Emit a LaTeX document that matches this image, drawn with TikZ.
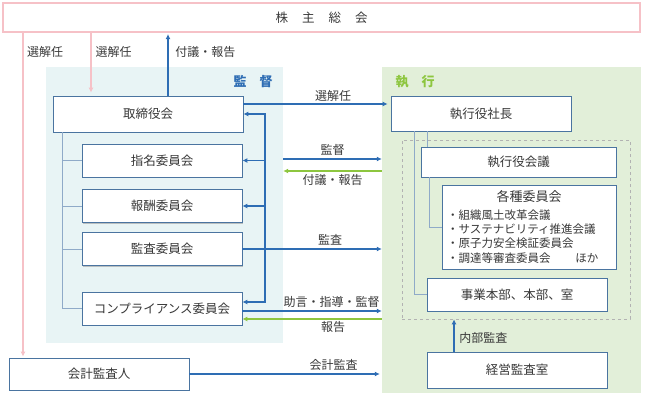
\documentclass[tikz,border=0pt]{standalone}
\usepackage{fontspec}
\setmainfont{Noto Sans CJK JP}
\usetikzlibrary{arrows.meta, positioning, calc, shadows}

\definecolor{boxborder}{HTML}{4A74A0}
\definecolor{treegray}{HTML}{8FAAC8}
\definecolor{flowblue}{HTML}{2E6DB4}
\definecolor{flowgreen}{HTML}{8DC63F}
\definecolor{flowpink}{HTML}{F6C1C7}
\definecolor{kantokufill}{HTML}{E8F4F5}
\definecolor{shikkofill}{HTML}{E2EFD9}
\definecolor{textgray}{HTML}{383838}

\tikzset{
  % Boxes
  orgbox/.style={draw=boxborder, fill=white, line width=0.8pt, text=textgray,
    font=\fontsize{12.5}{14}\selectfont,
    drop shadow={shadow xshift=1.3pt, shadow yshift=-1.3pt, fill=black!45, opacity=0.5}},
  committee/.style={orgbox, minimum width=160pt, minimum height=33pt},
  topbox/.style={orgbox, draw=flowpink, line width=1.2pt},
  % Areas
  region/.style={draw=none, inner sep=0pt},
  arealabel/.style={font=\bfseries\fontsize{13}{15}\selectfont},
  dashframe/.style={draw=black!30, dashed, line width=0.7pt, inner sep=0pt},
  % Connectors
  bluearrow/.style={-{Latex[length=5pt, width=5pt]}, line width=1.6pt, draw=flowblue},
  greenarrow/.style={-{Latex[length=5pt, width=5pt]}, line width=1.6pt, draw=flowgreen},
  pinkarrow/.style={-{Latex[length=5pt, width=5pt]}, line width=1.4pt, draw=flowpink},
  treeline/.style={draw=treegray, line width=0.8pt},
}

\begin{document}
\begin{tikzpicture}[x=1pt, y=-1pt,
    lbl/.style={text=textgray, font=\fontsize{12}{14}\selectfont, inner sep=1.5pt},
  ]
  \useasboundingbox (0,0) rectangle (645,396);

  % Areas
  \node[region, fill=kantokufill, minimum width=237pt, minimum height=276pt] (kantoku) at (164.5,205) {};
  \node[region, fill=shikkofill, minimum width=259pt, minimum height=326pt] (shikko) at (511.5,230) {};
  \node[arealabel, text=flowblue] (kantokulabel) at (253,82) {監\hspace{13pt}督};
  \node[arealabel, text=flowgreen] (shikkolabel) at (415,82) {執\hspace{13pt}行};
  \node[dashframe, minimum width=228pt, minimum height=179pt] (execframe) at (516,229.5) {};

  % Boxes
  \node[topbox, minimum width=637pt, minimum height=29pt] (kabunushi) at (321.5,17.5)
    {株\hspace{14pt}主\hspace{14pt}総\hspace{14pt}会};
  \node[orgbox, minimum width=190pt, minimum height=36pt] (torishimari) at (148,114) {取締役会};
  \node[committee] (shimei) at (162,160.5) {指名委員会};
  \node[committee] (hoshu) at (162,206) {報酬委員会};
  \node[committee] (kansa) at (162,249) {監査委員会};
  \node[committee] (compliance) at (162,308.5) {コンプライアンス委員会};
  \node[orgbox, minimum width=180pt, minimum height=32pt] (kaikei) at (99,374) {会計監査人};

  \node[orgbox, minimum width=180pt, minimum height=35pt] (shacho) at (481,113.5) {執行役社長};
  \node[orgbox, minimum width=195pt, minimum height=30pt] (yakuinkaigi) at (518.5,162) {執行役会議};
  \node[orgbox, minimum width=174pt, minimum height=84pt, text width=164pt, inner xsep=5pt,
    align=left, font=\fontsize{11.5}{14.3}\selectfont] (kakushu) at (529,227)
    {\makebox[164pt]{\fontsize{13}{15}\selectfont 各種委員会}\\[3pt]
     ・組織風土改革会議\\
     ・サステナビリティ推進会議\\
     ・原子力安全検証委員会\\
     ・調達等審査委員会\hspace{25pt}ほか};
  \node[orgbox, minimum width=180pt, minimum height=33pt] (jigyo) at (517,294.5) {事業本部、本部、室};
  \node[orgbox, minimum width=180pt, minimum height=36pt] (keiei) at (517,370) {経営監査室};

  % Guide positions
  \coordinate (pinkA) at (23,0);
  \coordinate (pinkB) at (91,0);
  \coordinate (upC) at (168,0);
  \coordinate (bus) at (265,0);
  \coordinate (treeL) at (62,0);
  \coordinate (treeR1) at (414,0);
  \coordinate (treeR2) at (427,0);
  \coordinate (treeR3) at (429,0);
  \coordinate (audit) at (454,0);
  \coordinate (senkairow) at (0,104);
  \coordinate (kantokurow) at (0,159);
  \coordinate (fugirow) at (171,171);
  \coordinate (advise) at ([yshift=-2.5pt]compliance.east);
  \coordinate (reportin) at ([yshift=-10.5pt]compliance.east);

  % Tree lines
  \draw[treeline] (torishimari.south -| treeL) |- (compliance.west);
  \foreach \c in {shimei, hoshu, kansa}
    \draw[treeline] (treeL |- \c.west) -- (\c.west);
  \draw[treeline] (shacho.south -| treeR1) |- (jigyo.west);
  \draw[treeline] (shacho.south -| treeR2) -- (treeR2 |- yakuinkaigi.north);
  \draw[treeline] (yakuinkaigi.south -| treeR3) |- (kakushu.west);

  % Shareholders
  \draw[pinkarrow, shorten >=1pt] (kabunushi.south -| pinkA) -- (pinkA |- kaikei.north)
    node[lbl, pos=0.058, right, xshift=2pt] {選解任};
  \draw[pinkarrow, shorten >=3pt] (kabunushi.south -| pinkB) -- (pinkB |- torishimari.north)
    node[lbl, pos=0.3, right, xshift=2.5pt] {選解任};
  \draw[bluearrow, shorten >=1.5pt] (torishimari.north -| upC) -- (kabunushi.south -| upC)
    node[lbl, pos=0.7, right, xshift=5pt] {付議・報告};

  % Board to committees
  \draw[bluearrow] (kansa.east) -- (kansa.east -| shikko.west)
    node[lbl, pos=0.63, above, yshift=1pt] {監査};
  \draw[bluearrow] (bus |- kansa.east) |- (torishimari.east);
  \draw[bluearrow] (bus |- shimei.east) -- (shimei.east);
  \draw[bluearrow] (bus |- hoshu.east) -- (hoshu.east);
  \draw[bluearrow] (bus |- kansa.east) |- ([yshift=6.5pt]compliance.east);

  % Board to execution
  \draw[bluearrow, shorten >=3pt] (torishimari.east |- senkairow) -- (shacho.west |- senkairow)
    node[lbl, pos=0.61, above] {選解任};
  \draw[bluearrow] (kantokurow -| kantoku.east) -- (kantokurow -| shikko.west)
    node[lbl, midway, above, yshift=1pt] {監督};
  \draw[greenarrow] (fugirow -| shikko.west) -- (fugirow -| kantoku.east)
    node[lbl, midway, below, yshift=-1pt] {付議・報告};
  \draw[bluearrow] (advise) -- (advise -| shikko.west)
    node[lbl, pos=0.64, above, yshift=1pt] {助言・指導・監督};
  \draw[greenarrow] (reportin -| shikko.west) -- (reportin)
    node[lbl, pos=0.35, below] {報告};
  \draw[bluearrow, shorten >=2pt] (kaikei.east) -- (kaikei.east -| shikko.west)
    node[lbl, pos=0.75, above, yshift=1pt] {会計監査};

  % Internal audit
  \draw[bluearrow] (keiei.north -| audit) -- (audit |- execframe.south)
    node[lbl, midway, right, xshift=3pt, yshift=-2pt] {内部監査};

\end{tikzpicture}
\end{document}
